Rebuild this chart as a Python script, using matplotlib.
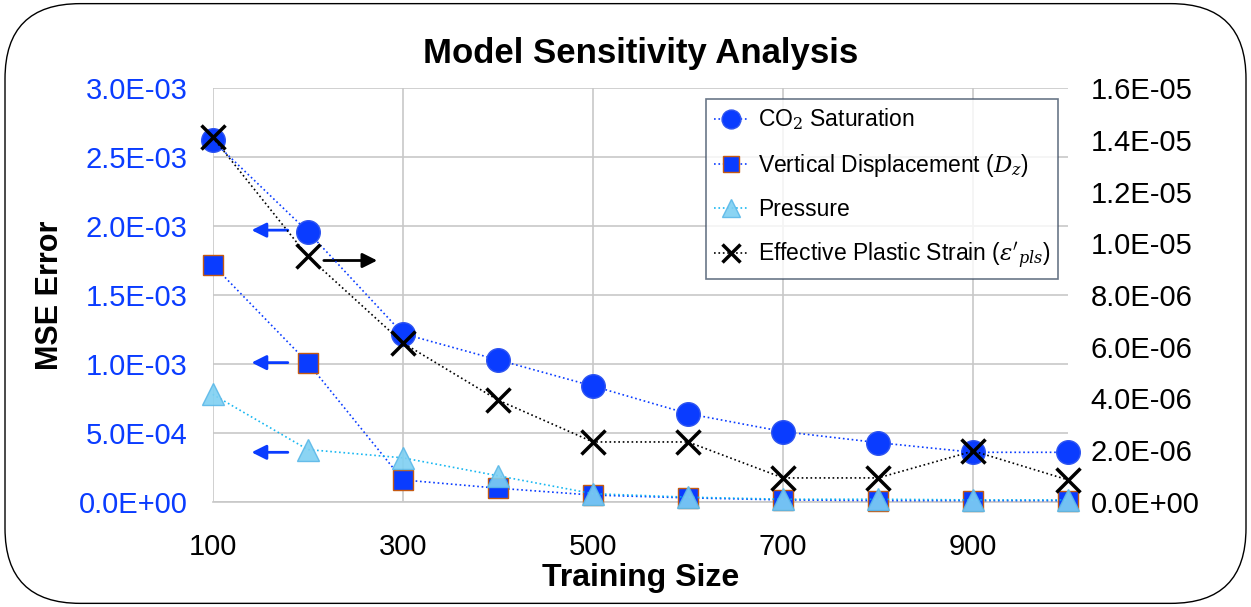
import numpy as np
import matplotlib.pyplot as plt
from matplotlib.patches import FancyBboxPatch

plt.rcParams['font.family'] = ['Liberation Sans', 'DejaVu Sans']
plt.rcParams['mathtext.fontset'] = 'dejavuserif'

# Data
train_size = [100, 200, 300, 400, 500, 600, 700, 800, 900, 1000]
co2_sat = [2.62e-3, 1.96e-3, 1.22e-3, 1.03e-3, 0.84e-3, 0.64e-3, 0.51e-3, 0.43e-3, 0.36e-3, 0.36e-3]
vert_disp = [1.72e-3, 1.01e-3, 0.16e-3, 0.10e-3, 0.05e-3, 0.03e-3, 0.015e-3, 0.01e-3, 0.01e-3, 0.01e-3]
pressure = [0.78e-3, 0.38e-3, 0.32e-3, 0.19e-3, 0.06e-3, 0.035e-3, 0.02e-3, 0.02e-3, 0.015e-3, 0.015e-3]
plastic_strain = [1.41e-5, 0.95e-5, 6.15e-6, 3.94e-6, 2.32e-6, 2.32e-6, 0.93e-6, 0.93e-6, 1.97e-6, 0.85e-6]

left_ticks = [0, 0.5e-3, 1.0e-3, 1.5e-3, 2.0e-3, 2.5e-3, 3.0e-3]
left_labels = ['0.0E+00', '5.0E-04', '1.0E-03', '1.5E-03', '2.0E-03', '2.5E-03', '3.0E-03']
right_ticks = [0, 2e-6, 4e-6, 6e-6, 8e-6, 1.0e-5, 1.2e-5, 1.4e-5, 1.6e-5]
right_labels = ['0.0E+00', '2.0E-06', '4.0E-06', '6.0E-06', '8.0E-06',
                '1.0E-05', '1.2E-05', '1.4E-05', '1.6E-05']
x_ticks = [100, 300, 500, 700, 900]

blue = '#0A3CFF'
cyan = '#00B0F0'

fig = plt.figure(figsize=(12.51, 6.07), dpi=100)
ax = fig.add_axes([0.170, 0.173, 0.684, 0.682])
ax2 = ax.twinx()

# rounded frame around the whole figure
frame = FancyBboxPatch((0.004, 0.006), 0.992, 0.988, boxstyle='round,pad=0,rounding_size=0.06',
                       transform=fig.transFigure, facecolor='none', edgecolor='black',
                       linewidth=1.0, mutation_aspect=1251 / 607)
fig.patches.append(frame)

l1, = ax.plot(train_size, co2_sat, linestyle=':', color=blue, linewidth=1.2, marker='o',
              markersize=17, markerfacecolor=blue, markeredgecolor='#2F55F0', zorder=4,
              clip_on=False, label='CO$_2$ Saturation')
l2, = ax.plot(train_size, vert_disp, linestyle=':', color=blue, linewidth=1.2, marker='s',
              markersize=14, markerfacecolor=blue, markeredgecolor='#C55A11', zorder=4,
              clip_on=False, label='Vertical Displacement ($D_z$)')
l3, = ax.plot(train_size, pressure, linestyle=':', color=cyan, linewidth=1.2, marker='^',
              markersize=16, markerfacecolor='#7FD0F2', markeredgecolor='#5BB8E8', alpha=0.9,
              zorder=5, clip_on=False, label='Pressure')
l4, = ax2.plot(train_size, plastic_strain, linestyle=':', color='black', linewidth=1.2, marker='x',
               markersize=17, markeredgewidth=2.5, zorder=6, clip_on=False,
               label="Effective Plastic Strain ($\\varepsilon'_{pls}$)")

ax.set_xlim(100, 1000)
ax.set_ylim(0, 3.0e-3)
ax2.set_ylim(0, 1.6e-5)
ax.set_xticks(x_ticks)
ax.set_yticks(left_ticks)
ax.set_yticklabels(left_labels)
ax2.set_yticks(right_ticks)
ax2.set_yticklabels(right_labels)

ax.tick_params(axis='y', colors=blue, labelsize=21, length=0, pad=18)
ax.tick_params(axis='x', labelsize=21, length=0, pad=22)
ax2.tick_params(axis='y', labelsize=21, length=0, pad=16)

ax.grid(True, color='#C8C8C8', linewidth=1.2)
ax.set_axisbelow(True)
for a in (ax, ax2):
    for s in a.spines.values():
        s.set_visible(False)
ax.spines['bottom'].set_visible(True)
ax.spines['bottom'].set_color('#C8C8C8')
ax.spines['bottom'].set_linewidth(1.2)

ax.set_title('Model Sensitivity Analysis', fontsize=25, fontweight='bold', pad=18)
ax.set_xlabel('Training Size', fontsize=23, fontweight='bold', labelpad=2)
ax.set_ylabel('MSE Error', fontsize=22, fontweight='bold', labelpad=10)

# arrows indicating which axis each series belongs to
arrow_kw = dict(arrowstyle='-|>', color=blue, lw=2, mutation_scale=22)
for yv in [1.97e-3, 1.01e-3, 0.36e-3]:
    ax.annotate('', xy=(138, yv), xytext=(182, yv), arrowprops=arrow_kw, zorder=3)
ax.annotate('', xy=(276, 1.75e-3), xytext=(214, 1.75e-3),
            arrowprops=dict(arrowstyle='-|>', color='black', lw=2, mutation_scale=22), zorder=3)

leg = ax2.legend(handles=[l1, l2, l3, l4], loc='upper right', bbox_to_anchor=(0.988, 0.974),
                 fontsize=16.5, frameon=True, fancybox=False, edgecolor='#44546A',
                 borderpad=0.35, labelspacing=0.85, handlelength=1.5, handletextpad=0.4,
                 borderaxespad=0.0, markerscale=0.8)
leg.get_frame().set_linewidth(1.2)

fig.savefig('out.png', dpi=100)
